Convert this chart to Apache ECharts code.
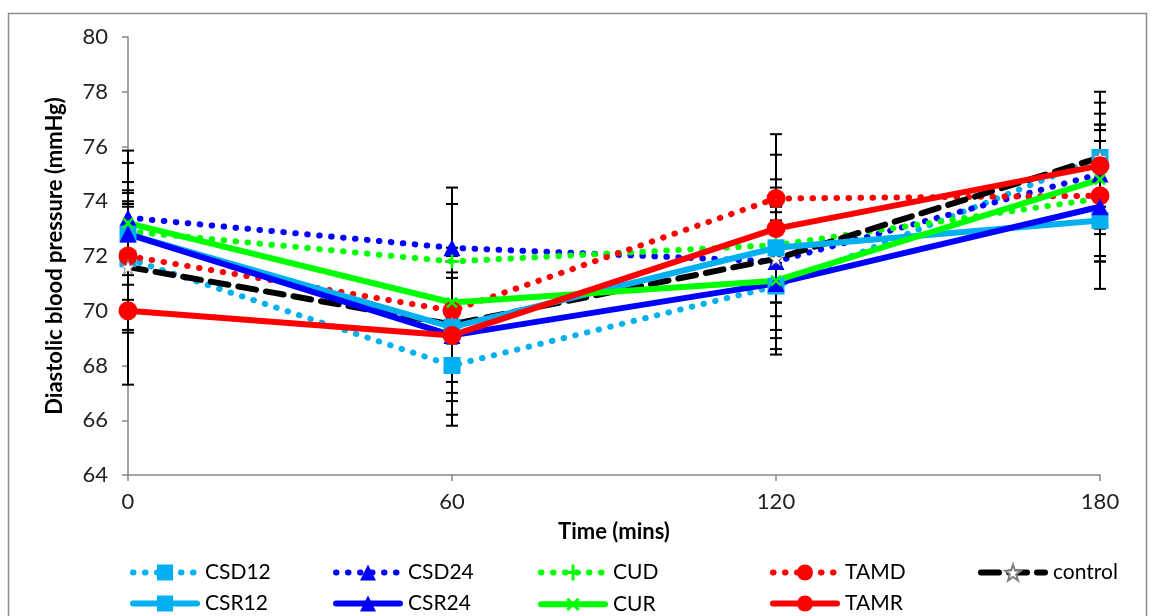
<!DOCTYPE html>
<html><head><meta charset="utf-8">
<script src="https://cdn.jsdelivr.net/npm/echarts@6/dist/echarts.min.js"></script>
<style>html,body{margin:0;padding:0;background:#fff}#c{width:1155px;height:616px}</style>
</head><body><div id="c"></div><script>
// ---- data ----
const times = [0, 60, 120, 180];
const xTicks = [0, 60, 120, 180];
const yTicks = [64, 66, 68, 70, 72, 74, 76, 78, 80];

const CSD12 = [71.9, 68.0, 70.9, 75.6];
const CSD24 = [73.4, 72.3, 71.8, 75.0];
const CUD   = [72.9, 71.8, 72.4, 74.1];
const TAMD  = [72.0, 70.0, 74.1, 74.2];
const control = [71.6, 69.5, 71.9, 75.6];
const CSR12 = [72.8, 69.4, 72.3, 73.3];
const CSR24 = [72.8, 69.1, 71.0, 73.8];
const CUR   = [73.2, 70.3, 71.1, 74.8];
const TAMR  = [70.0, 69.1, 73.0, 75.3];

const errCSD12 = [2.0, 2.2, 2.3, 2.4];
const errCSD24 = [2.45, 2.2, 1.5, 2.2];
const errCUD   = [2.5, 2.1, 1.4, 2.1];
const errTAMD  = [2.7, 2.0, 2.35, 2.4];
const errControl = [2.4, 2.8, 2.6, 2.0];
const errCSR12 = [1.0, 2.0, 2.5, 1.5];
const errCSR24 = [1.5, 2.1, 2.6, 3.0];
const errCUR   = [1.2, 1.5, 2.1, 1.8];
const errTAMR  = [2.7, 2.9, 2.7, 1.5];

// ---- styling ----
const FONT = 'Lato';
const LBLUE = '#00B0F0', BLUE = '#0000FF', GREEN = '#00FF00', RED = '#FF0000';
const DOT = [0.5, 11.5];
const STAR = 'path://M0,-10L2.35,-3.24L9.51,-3.09L3.8,1.24L5.88,8.09L0,4L-5.88,8.09L-3.8,1.24L-9.51,-3.09L-2.35,-3.24Z';
const PLUS = 'path://M-0.9,-5H0.9V-0.9H5V0.9H0.9V5H-0.9V0.9H-5V-0.9H-0.9Z';

const defs = [
  {name:'CSD12', v:CSD12, e:errCSD12, color:LBLUE, type:DOT, symbol:'rect', size:17, pos:[130,562]},
  {name:'CSD24', v:CSD24, e:errCSD24, color:BLUE, type:DOT, symbol:'triangle', size:17, pos:[333,562]},
  {name:'CUD', v:CUD, e:errCUD, color:GREEN, type:DOT, symbol:PLUS, size:14, pos:[538,562]},
  {name:'TAMD', v:TAMD, e:errTAMD, color:RED, type:DOT, symbol:'circle', size:19, pos:[770,562]},
  {name:'control', v:control, e:errControl, color:'#000', type:[18,10], symbol:STAR, size:14, pos:[978,562], star:true},
  {name:'CSR12', v:CSR12, e:errCSR12, color:LBLUE, type:'solid', symbol:'rect', size:17, pos:[130,593]},
  {name:'CSR24', v:CSR24, e:errCSR24, color:BLUE, type:'solid', symbol:'triangle', size:17, pos:[333,593]},
  {name:'CUR', v:CUR, e:errCUR, color:GREEN, type:'solid', symbol:PLUS, size:14, rotate:45, pos:[538,593]},
  {name:'TAMR', v:TAMR, e:errTAMR, color:RED, type:'solid', symbol:'circle', size:19, pos:[770,593]}
];

function renderErr(params, api) {
  const x = api.value(0), lo = api.value(1), hi = api.value(2);
  const p1 = api.coord([x, hi]), p2 = api.coord([x, lo]);
  const w = 6, st = {stroke:'#000', lineWidth:2};
  return {type:'group', children:[
    {type:'line', shape:{x1:p1[0], y1:p1[1], x2:p2[0], y2:p2[1]}, style:st},
    {type:'line', shape:{x1:p1[0]-w, y1:p1[1], x2:p1[0]+w, y2:p1[1]}, style:st},
    {type:'line', shape:{x1:p2[0]-w, y1:p2[1], x2:p2[0]+w, y2:p2[1]}, style:st}
  ]};
}

const series = [];
defs.forEach(d => {
  series.push({
    type:'custom', silent:true, z:1, clip:false,
    renderItem: renderErr,
    encode:{x:0, y:[1,2]},
    data: times.map((t,i) => [t, d.v[i]-d.e[i], d.v[i]+d.e[i]])
  });
});
defs.forEach(d => {
  series.push({
    type:'line', name:d.name, z:3,
    data: times.map((t,i) => [t, d.v[i]]),
    symbol: d.symbol, symbolSize: d.size, symbolRotate: d.rotate || 0,
    showAllSymbol:true,
    lineStyle:{color:d.color, width:6, type:d.type, cap:'round'},
    itemStyle: d.star ? {color:'#fff', borderColor:'#7f7f7f', borderWidth:1} : {color:d.color},
    emphasis:{disabled:true}
  });
});

const legends = defs.map(d => ({
  data:[d.name], left:d.pos[0], top:d.pos[1], itemWidth:64, itemHeight:20, itemGap:0,
  padding:0, textStyle:{fontFamily:FONT, fontSize:21, color:'#000', padding:[0,0,0,3]},
  lineStyle:{width:6, type:'inherit', cap:'round'},
  selectedMode:false
}));

const chart = echarts.init(document.getElementById('c'), null, {renderer:'canvas'});
chart.setOption({
  animation:false,
  backgroundColor:'#fff',
  graphic:[{type:'rect', shape:{x:8.5, y:13.5, width:1138, height:640}, style:{fill:'none', stroke:'#8c8c8c', lineWidth:1.5}, silent:true}],
  grid:{left:128, right:55, top:37, bottom:141},
  legend: legends,
  xAxis:{
    type:'value', min:xTicks[0], max:xTicks[xTicks.length-1], interval:60,
    name:'Time (mins)', nameLocation:'middle', nameGap:46,
    nameTextStyle:{fontFamily:FONT, fontSize:22, fontWeight:'bold', color:'#000'},
    axisLine:{lineStyle:{color:'#868686', width:1.5}},
    axisTick:{show:true, length:6, lineStyle:{color:'#868686', width:1.5}},
    axisLabel:{fontFamily:FONT, fontSize:22, color:'#222', margin:16},
    splitLine:{show:false}
  },
  yAxis:{
    type:'value', min:yTicks[0], max:yTicks[yTicks.length-1], interval:2,
    name:'Diastolic blood pressure (mmHg)', nameLocation:'middle', nameGap:62,
    nameTextStyle:{fontFamily:FONT, fontSize:22, fontWeight:'bold', color:'#000'},
    axisLine:{show:true, lineStyle:{color:'#868686', width:1.5}},
    axisTick:{show:true, length:6, lineStyle:{color:'#868686', width:1.5}},
    axisLabel:{fontFamily:FONT, fontSize:22, color:'#222', margin:20},
    splitLine:{show:false}
  },
  series: series
});
</script></body></html>
